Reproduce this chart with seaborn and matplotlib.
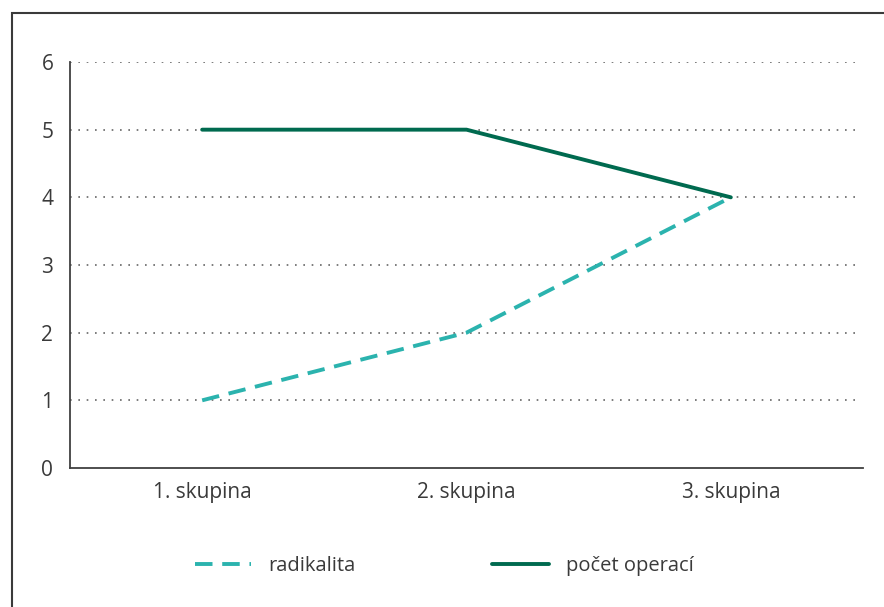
import matplotlib
matplotlib.use("Agg")
import matplotlib.pyplot as plt
import matplotlib.patches as mpatches
import seaborn as sns
import pandas as pd

# data
skupiny = ["1. skupina", "2. skupina", "3. skupina"]
radikalita = [1, 2, 4]
pocet_operaci = [5, 5, 4]
y_ticks = [0, 1, 2, 3, 4, 5, 6]

df = pd.DataFrame({
    "skupina": skupiny * 2,
    "x": list(range(len(skupiny))) * 2,
    "hodnota": radikalita + pocet_operaci,
    "serie": ["radikalita"] * 3 + ["počet operací"] * 3,
})

sns.set_style("white")
plt.rcParams["font.family"] = ["Open Sans", "DejaVu Sans"]
text_color = "#3a3a3a"

fig = plt.figure(figsize=(8.84, 6.07), dpi=100)
ax = fig.add_axes([70 / 884, 1 - 468 / 607, 793 / 884, 406 / 607])

colors = {"radikalita": "#2bb3ae", "počet operací": "#006a4f"}
dashes = {"radikalita": (4.5, 2.5), "počet operací": ""}
sns.lineplot(data=df, x="x", y="hodnota", hue="serie", style="serie",
             palette=colors, dashes=dashes, linewidth=2.8, ax=ax,
             legend=True)

ax.set_xlim(-0.5, 2.5)
ax.set_ylim(0, 6)
ax.set_yticks(y_ticks)
ax.set_yticklabels([str(v) for v in y_ticks], fontsize=15, color=text_color)
ax.set_xticks(range(len(skupiny)))
ax.set_xticklabels(skupiny, fontsize=15, color=text_color)
ax.tick_params(axis="x", length=0, pad=10)
ax.set_xticks([-0.5, 0.5, 1.5, 2.5], minor=True)
ax.tick_params(axis="x", which="minor", length=5, width=1.2, color="#404040", direction="out")
ax.tick_params(axis="y", length=4, width=1.2, color="#404040", direction="out", pad=8)
ax.set_xlabel("")
ax.set_ylabel("")

for v in y_ticks[1:]:
    ax.plot([-0.5, 2.48], [v, v], color="#666666", linewidth=1.2,
            linestyle=(0, (1, 4)), zorder=0)

for side in ["top", "right"]:
    ax.spines[side].set_visible(False)
for side in ["left", "bottom"]:
    ax.spines[side].set_color("#404040")
    ax.spines[side].set_linewidth(1.3)

leg = ax.legend(loc="center", bbox_to_anchor=(374 / 793, (468 - 566) / 406),
                ncol=2, frameon=False, fontsize=14.5, handlelength=2.8,
                columnspacing=6.8, handletextpad=0.85)
for t in leg.get_texts():
    t.set_color(text_color)

# frame around the figure (cut at right and bottom edges)
frame = mpatches.Rectangle((11.5 / 884, -0.1), 1.2, 1.1 - 12.5 / 607,
                           transform=fig.transFigure, fill=False,
                           edgecolor="#3a3a3a", linewidth=1.5)
fig.add_artist(frame)

fig.savefig("out.png", dpi=100)
